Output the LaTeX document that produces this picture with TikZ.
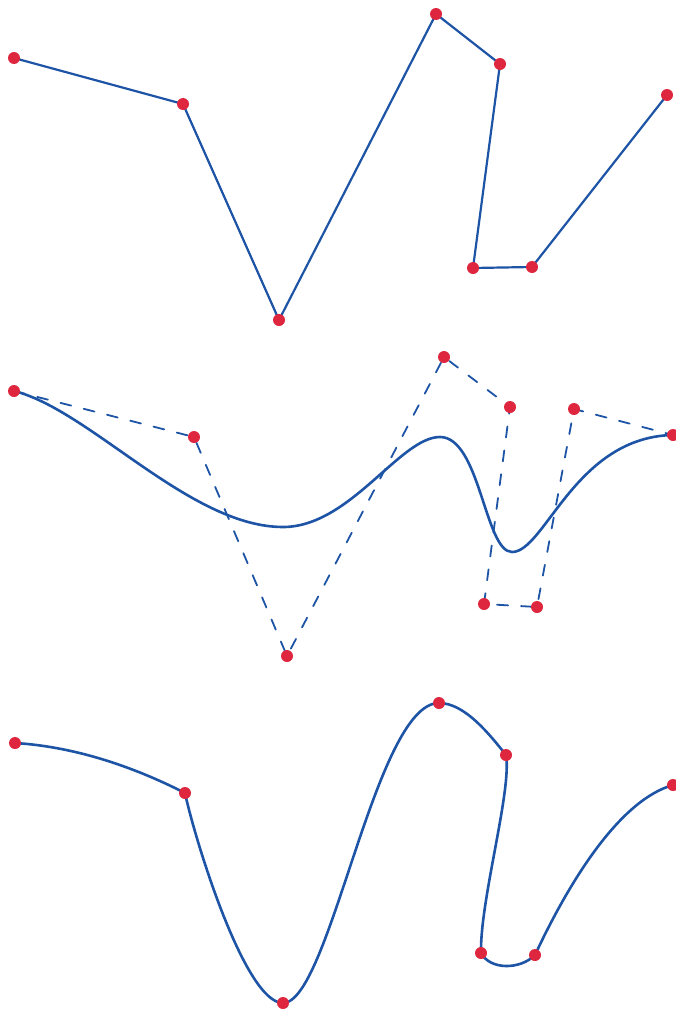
\documentclass[tikz,border=0pt]{standalone}
\usepackage{xcolor}
\usepackage{tikz}
\definecolor{pen}{RGB}{30,84,165}
\definecolor{ink}{RGB}{222,38,62}
\tikzset{dot/.style={fill=ink}}
\begin{document}
\begin{tikzpicture}[x=1pt, y=-1pt, line cap=round, line join=round,
    poly/.style={pen, line width=2.2pt},
    ctrl/.style={pen, line width=1.8pt, dash pattern=on 11pt off 13pt},
    curve/.style={pen, line width=2.6pt}]
    \def\dotR{6}
    \useasboundingbox (0,0) rectangle (675,1017);

    % Polygon
    \coordinate (a1) at (14,58);
    \coordinate (a2) at (183,104);
    \coordinate (a3) at (279,320);
    \coordinate (a4) at (436,14);
    \coordinate (a5) at (500,64);
    \coordinate (a6) at (473,268);
    \coordinate (a7) at (532,267);
    \coordinate (a8) at (667,95);
    \draw [poly] (a1) -- (a2) -- (a3) -- (a4) -- (a5) -- (a6) -- (a7) -- (a8);
    \foreach \i in {1,...,8}
      \fill [dot] (a\i) circle (\dotR);

    % Approximating curve with its control polygon
    \coordinate (b1) at (14,391);
    \coordinate (b2) at (194,437);
    \coordinate (b3) at (287,656);
    \coordinate (b4) at (444,357);
    \coordinate (b5) at (510,407);
    \coordinate (b6) at (484,604);
    \coordinate (b7) at (537,607);
    \coordinate (b8) at (574,409);
    \coordinate (b9) at (673,435);
    \coordinate (low) at (283,527);
    \coordinate (peak) at (440,437);
    \coordinate (dip) at (512,552);
    \draw [ctrl] (b1) -- (b2) -- (b3) -- (b4) -- (b5) -- (b6) -- (b7) -- (b8) -- (b9);
    \draw [curve] (b1) .. controls (90,410) and (190,527) .. (low)
      .. controls (350,527) and (400,437) .. (peak)
      .. controls (480,437) and (485,552) .. (dip)
      .. controls (545,552) and (575,437) .. (b9);
    \foreach \i in {1,...,9}
      \fill [dot] (b\i) circle (\dotR);

    % Interpolating curve
    \coordinate (c1) at (15,743);
    \coordinate (c2) at (185,793);
    \coordinate (c3) at (283,1003);
    \coordinate (c4) at (439,703);
    \coordinate (c5) at (506,755);
    \coordinate (c6) at (481,953);
    \coordinate (c7) at (535,955);
    \coordinate (c8) at (673,785);
    \draw [curve] (c1) .. controls (80,747) and (140,770) .. (c2)
      .. controls (195,840) and (245,1003) .. (c3)
      .. controls (330,1003) and (375,703) .. (c4)
      .. controls (465,703) and (490,735) .. (c5)
      .. controls (512,790) and (480,900) .. (c6)
      .. controls (490,970) and (520,970) .. (c7)
      .. controls (570,880) and (620,800) .. (c8);
    \foreach \i in {1,...,8}
      \fill [dot] (c\i) circle (\dotR);
\end{tikzpicture}
\end{document}
